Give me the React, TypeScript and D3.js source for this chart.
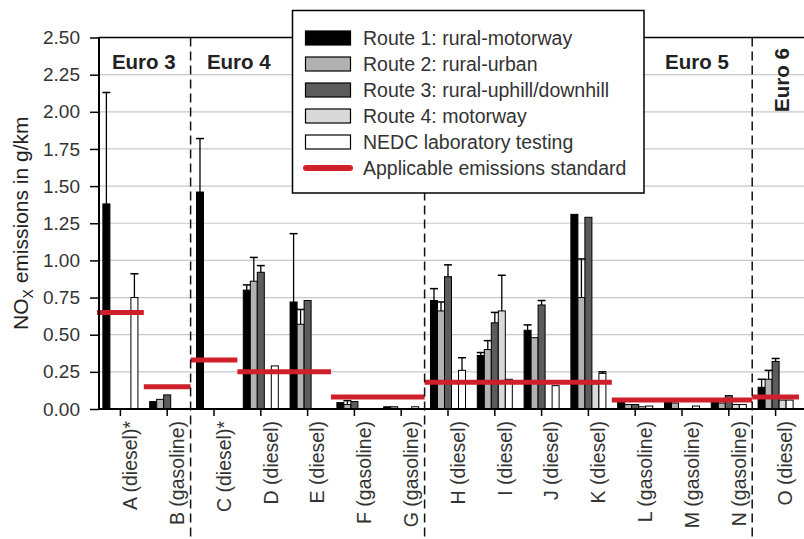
import {useRef, useEffect} from 'react'
import * as d3 from 'd3'

// vehicles on the x axis
const vehicles = [
    "A (diesel)*", "B (gasoline)", "C (diesel)*", "D (diesel)", "E (diesel)",
    "F (gasoline)", "G (gasoline)", "H (diesel)", "I (diesel)", "J (diesel)",
    "K (diesel)", "L (gasoline)", "M (gasoline)", "N (gasoline)", "O (diesel)"
]

// NOx in g/km, null = no bar
const route1 = [1.38, 0.05, 1.46, 0.80, 0.72, 0.043, 0.015, 0.73, 0.36, 0.53, 1.31, 0.05, 0.045, 0.05, 0.146]
const route1Err = [2.13, null, 1.82, 0.835, 1.18, null, null, 0.81, 0.38, 0.566, null, null, null, null, 0.20]
const route2 = [null, 0.065, null, 0.86, 0.57, 0.03, 0.015, 0.66, 0.40, 0.48, 0.75, 0.03, 0.04, 0.04, 0.20]
const route2Err = [null, null, null, 1.02, 0.67, 0.056, null, 0.72, 0.46, null, 1.01, null, null, null, 0.26]
const route3 = [null, 0.095, null, 0.92, 0.73, 0.05, null, 0.89, 0.58, 0.70, 1.29, 0.03, null, 0.09, 0.32]
const route3Err = [null, null, null, 0.965, null, null, null, 0.97, 0.65, 0.73, null, null, null, null, 0.34]
const route4 = [null, null, null, null, null, null, null, null, 0.66, null, 0.17, 0.015, null, 0.03, 0.06]
const route4Err = [null, null, null, null, null, null, null, null, 0.90, null, null, null, null, null, null]
const nedc = [0.75, null, null, 0.29, null, null, 0.015, 0.26, 0.20, 0.157, 0.24, 0.02, 0.02, 0.03, 0.06]
const nedcErr = [0.91, null, null, null, null, null, null, 0.345, null, null, 0.25, null, null, null, null]

const seriesNames = [
    "Route 1: rural-motorway", "Route 2: rural-urban", "Route 3: rural-uphill/downhill",
    "Route 4: motorway", "NEDC laboratory testing"
]
const seriesColors = ["#000000", "#b2b2b2", "#5c5c5c", "#d9d9d9", "#ffffff"]
const seriesValues = [route1, route2, route3, route4, nedc]
const seriesErrors = [route1Err, route2Err, route3Err, route4Err, nedcErr]

// applicable emissions standard, from first to last vehicle (index)
const standardFrom = [0, 1, 2, 3, 5, 7, 11, 14]
const standardTo = [0, 1, 2, 4, 6, 10, 13, 14]
const standardValue = [0.65, 0.15, 0.33, 0.25, 0.08, 0.18, 0.06, 0.08]

// euro classes: label, position in band units, breaks after vehicle index
const euroLabels = ["Euro 3", "Euro 4", "Euro 5", "Euro 6"]
const euroLabelPos = [1.0, 3.03, 12.82, 14.64]
const euroBreaks = [2, 7, 14]

const yTicks = [0, 0.25, 0.5, 0.75, 1.0, 1.25, 1.5, 1.75, 2.0, 2.25, 2.5]

export default function App() {
    const ref = useRef<SVGSVGElement>(null)

    useEffect(() => {
        const width = 804
        const height = 539
        const left = 99, right = 804, top = 37.5, bottom = 409
        const font = "Arial, 'Liberation Sans', sans-serif"
        const red = "#cf1f2b"

        const svg = d3.select(ref.current)
        svg.selectAll("*").remove()
        svg.attr("width", width).attr("height", height)
            .style("font-family", font)

        const y = d3.scaleLinear().domain([0, 2.5]).range([bottom, top])
        const x0 = d3.scaleBand<string>().domain(vehicles).range([97, 799])
        const x1 = d3.scaleBand<number>().domain(d3.range(5)).range([0, x0.bandwidth()]).paddingOuter(0.84)
        const step = x0.step()
        const bandX = (u: number) => x0.range()[0] + u * step

        // grid
        svg.append("g").selectAll("line")
            .data(yTicks.filter(d => d > 0 && d < 2.5))
            .join("line")
            .attr("x1", left).attr("x2", right)
            .attr("y1", d => y(d)).attr("y2", d => y(d))
            .attr("stroke", "#c8c8c8").attr("stroke-width", 1.2)

        // bars
        const bars = vehicles.flatMap((v, i) => seriesValues.map((s, k) => ({
            v, k, value: s[i], err: seriesErrors[k][i]
        }))).filter(d => d.value != null)

        const g = svg.append("g")
        g.selectAll("rect.bar")
            .data(bars)
            .join("rect")
            .attr("class", "bar")
            .attr("x", d => x0(d.v)! + x1(d.k)!)
            .attr("width", x1.bandwidth())
            .attr("y", d => y(d.value as number))
            .attr("height", d => bottom - y(d.value as number))
            .attr("fill", d => seriesColors[d.k])
            .attr("stroke", "#000").attr("stroke-width", 1)

        // error bars
        const errs = bars.filter(d => d.err != null)
        const ex = (d: any) => x0(d.v)! + x1(d.k)! + x1.bandwidth() / 2
        g.selectAll("line.err")
            .data(errs)
            .join("line")
            .attr("class", "err")
            .attr("x1", ex).attr("x2", ex)
            .attr("y1", d => y(d.value as number)).attr("y2", d => y(d.err as number))
            .attr("stroke", "#000").attr("stroke-width", 1.3)
        g.selectAll("line.cap")
            .data(errs)
            .join("line")
            .attr("class", "cap")
            .attr("x1", d => ex(d) - 4).attr("x2", d => ex(d) + 4)
            .attr("y1", d => y(d.err as number)).attr("y2", d => y(d.err as number))
            .attr("stroke", "#000").attr("stroke-width", 1.5)

        // standards
        svg.append("g").selectAll("line")
            .data(standardValue.map((v, i) => ({v, a: vehicles[standardFrom[i]], b: vehicles[standardTo[i]]})))
            .join("line")
            .attr("x1", d => x0(d.a)!)
            .attr("x2", d => x0(d.b)! + x0.bandwidth())
            .attr("y1", d => y(d.v)).attr("y2", d => y(d.v))
            .attr("stroke", red).attr("stroke-width", 5)

        // axes
        const yAxis = svg.append("g")
            .attr("transform", `translate(${left},0)`)
            .call(d3.axisLeft(y).tickValues(yTicks).tickFormat(d3.format(".2f")).tickSize(9).tickPadding(10))
        yAxis.select(".domain").remove()
        yAxis.selectAll("line").attr("stroke", "#000").attr("stroke-width", 1.5)
        yAxis.selectAll("text").attr("font-size", 19).attr("font-family", font).attr("fill", "#333")

        const xAxis = svg.append("g")
            .attr("transform", `translate(0,${bottom})`)
            .call(d3.axisBottom(x0).tickSize(7).tickFormat(() => ""))
        xAxis.select(".domain").remove()
        xAxis.selectAll("line").attr("stroke", "#000").attr("stroke-width", 1.5)

        svg.append("g").selectAll("text")
            .data(vehicles)
            .join("text")
            .attr("transform", d => `translate(${x0(d)! + x0.bandwidth() / 2 + 10},${bottom + 12}) rotate(-90)`)
            .attr("text-anchor", "end")
            .attr("dy", "0.35em")
            .attr("font-size", 19.5)
            .attr("fill", "#333")
            .text(d => d)

        // frame
        svg.append("line").attr("x1", left).attr("x2", left).attr("y1", top).attr("y2", bottom + 1)
            .attr("stroke", "#000").attr("stroke-width", 2)
        svg.append("line").attr("x1", left).attr("x2", right).attr("y1", bottom).attr("y2", bottom)
            .attr("stroke", "#000").attr("stroke-width", 2)
        svg.append("line").attr("x1", left).attr("x2", right).attr("y1", top).attr("y2", top)
            .attr("stroke", "#000").attr("stroke-width", 1.5)

        // euro class separators
        svg.append("g").selectAll("line")
            .data(euroBreaks)
            .join("line")
            .attr("x1", d => bandX(d)).attr("x2", d => bandX(d))
            .attr("y1", top).attr("y2", height)
            .attr("stroke", "#111").attr("stroke-width", 1.5)
            .attr("stroke-dasharray", "9,5")

        svg.append("g").selectAll("text")
            .data(euroLabels)
            .join("text")
            .attr("transform", (d, i) => i === 3
                ? `translate(${bandX(euroLabelPos[i])},80) rotate(-90)`
                : `translate(${bandX(euroLabelPos[i])},62)`)
            .attr("text-anchor", "middle")
            .attr("dy", "0.35em")
            .attr("font-size", 20.5)
            .attr("font-weight", "bold")
            .attr("fill", "#222")
            .text(d => d)

        // y title
        const title = svg.append("text")
            .attr("transform", `translate(28,${(top + bottom) / 2}) rotate(-90)`)
            .attr("text-anchor", "middle")
            .attr("font-size", 21)
            .attr("fill", "#222")
        title.append("tspan").text("NO")
        title.append("tspan").attr("font-size", 14).attr("dy", 5).text("X")
        title.append("tspan").attr("dy", -5).text(" emissions in g/km")

        // legend
        const lg = svg.append("g")
        lg.append("rect")
            .attr("x", 292.5).attr("y", 10.5).attr("width", 351.5).attr("height", 182.5)
            .attr("fill", "#fff").attr("stroke", "#000").attr("stroke-width", 1.5)
        const rowY = (i: number) => 38 + i * 26
        lg.selectAll("rect.sw")
            .data(seriesNames)
            .join("rect")
            .attr("class", "sw")
            .attr("x", 305.5).attr("y", (d, i) => rowY(i) - 7)
            .attr("width", 45).attr("height", 14)
            .attr("fill", (d, i) => seriesColors[i])
            .attr("stroke", "#000").attr("stroke-width", 1.2)
        lg.append("line")
            .attr("x1", 306).attr("x2", 350).attr("y1", rowY(5)).attr("y2", rowY(5))
            .attr("stroke", red).attr("stroke-width", 6).attr("stroke-linecap", "round")
        lg.selectAll("text")
            .data([...seriesNames, "Applicable emissions standard"])
            .join("text")
            .attr("x", 363).attr("y", (d, i) => rowY(i))
            .attr("dy", "0.35em")
            .attr("font-size", 19.5)
            .attr("fill", "#333")
            .text(d => d)
    }, [])

    return (
        <div style={{position: "absolute", left: 0, top: 0}}>
            <svg ref={ref}></svg>
        </div>
    )
}
